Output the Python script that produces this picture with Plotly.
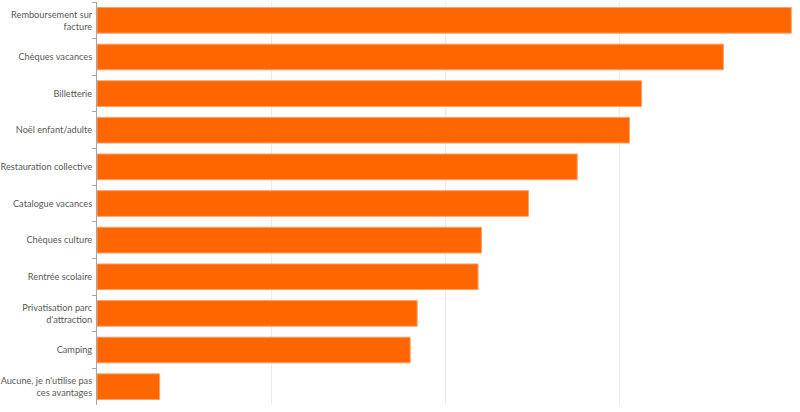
import plotly.graph_objects as go

categories = [
    "Remboursement sur<br>facture",
    "Chèques vacances",
    "Billetterie",
    "Noël enfant/adulte",
    "Restauration collective",
    "Catalogue vacances",
    "Chèques culture",
    "Rentrée scolaire",
    "Privatisation parc<br>d'attraction",
    "Camping",
    "Aucune, je n'utilise pas<br>ces avantages",
]
values = [39.9, 36.0, 31.3, 30.6, 27.6, 24.8, 22.1, 21.9, 18.4, 18.0, 3.6]
x_ticks = [0, 10, 20, 30, 40]

fig = go.Figure(
    go.Bar(
        y=categories,
        x=values,
        orientation="h",
        marker=dict(color="#FF6600", line=dict(color="#FF9F66", width=1)),
    )
)

fig.update_layout(
    width=800,
    height=412,
    margin=dict(l=97, r=7, t=2, b=7),
    paper_bgcolor="white",
    plot_bgcolor="white",
    bargap=0.3,
    showlegend=False,
    font=dict(family="Lato, sans-serif", size=9.2, color="#595959"),
)
fig.update_xaxes(
    range=[0, 40],
    tickvals=x_ticks,
    showgrid=True,
    gridcolor="#E8EBF2",
    gridwidth=1,
    zeroline=False,
    showticklabels=False,
    automargin=False,
)
fig.update_yaxes(
    autorange="reversed",
    showline=True,
    linecolor="#A6A6A6",
    linewidth=1,
    ticks="outside",
    ticklen=4,
    tickcolor="#A6A6A6",
    tickson="boundaries",
    showgrid=False,
    automargin=False,
    ticklabelstandoff=2,
)

fig.write_html(
    "out.html",
    config={"displayModeBar": False},
    post_script="document.body.style.margin='0';document.body.style.overflow='hidden';",
)
